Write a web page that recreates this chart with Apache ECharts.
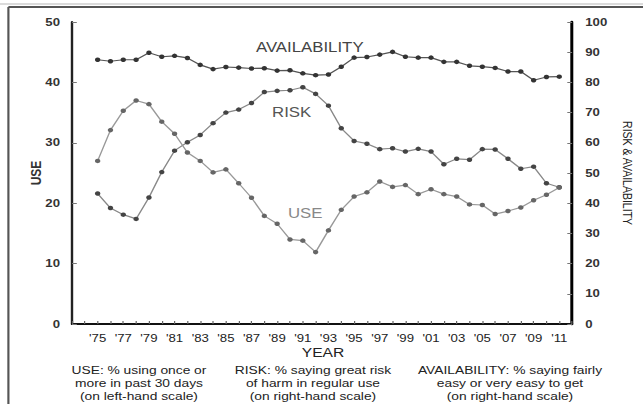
<!DOCTYPE html>
<html><head><meta charset="utf-8">
<script src="https://cdn.jsdelivr.net/npm/echarts@6/dist/echarts.min.js"></script>
<style>
html,body{margin:0;padding:0;background:#fff;overflow:hidden}
#wrap{width:643px;height:404px;overflow:hidden;position:relative}
#c{width:536px;height:404px;transform:scaleX(1.2);transform-origin:0 0}
</style>
</head><body><div id="wrap"><div id="c"></div></div>
<script>
var years = [1975,1976,1977,1978,1979,1980,1981,1982,1983,1984,1985,1986,1987,1988,1989,1990,1991,1992,1993,1994,1995,1996,1997,1998,1999,2000,2001,2002,2003,2004,2005,2006,2007,2008,2009,2010,2011];
// USE: % using once or more in past 30 days (left-hand scale)
var useVals = [27.0,32.1,35.3,37.0,36.4,33.5,31.5,28.4,27.0,25.1,25.6,23.3,20.9,17.9,16.6,14.0,13.8,11.9,15.5,18.9,21.1,21.8,23.6,22.7,23.0,21.5,22.3,21.5,21.1,19.8,19.7,18.2,18.7,19.3,20.5,21.4,22.6];
// RISK: % saying great risk of harm in regular use (right-hand scale)
var riskVals = [43.2,38.4,36.2,34.8,41.9,50.3,57.4,60.2,62.6,66.5,70.0,71.0,73.2,76.8,77.2,77.4,78.4,76.2,72.3,64.8,60.6,59.7,57.9,58.2,57.1,58.0,57.1,52.9,54.7,54.4,57.9,57.8,54.7,51.4,52.1,46.6,45.3];
// AVAILABILITY: % saying fairly easy or very easy to get (right-hand scale)
var availVals = [87.5,87.0,87.5,87.5,89.8,88.5,88.8,88.1,85.8,84.4,85.1,84.9,84.6,84.7,83.9,84.0,83.0,82.4,82.6,85.2,88.2,88.4,89.2,90.1,88.5,88.2,88.2,86.8,86.8,85.5,85.2,84.8,83.6,83.6,80.7,81.8,81.9];
var xTickLabels = ["'75","'77","'79","'81","'83","'85","'87","'89","'91","'93","'95","'97","'99","'01","'03","'05","'07","'09","'11"];
var labelYears = [1975,1977,1979,1981,1983,1985,1987,1989,1991,1993,1995,1997,1999,2001,2003,2005,2007,2009,2011];
var notes = [
  ["USE: % using once or","more in past 30 days","(on left-hand scale)"],
  ["RISK: % saying great risk","of harm in regular use","(on right-hand scale)"],
  ["AVAILABILITY: % saying fairly","easy or very easy to get","(on right-hand scale)"]
];

function pairs(vals){ return years.map(function(y,i){ return [y, vals[i]]; }); }
var FF = 'Liberation Sans, Arial, sans-serif';

var chart = echarts.init(document.getElementById('c'), null, {renderer:'svg'});
var graphics = [
  {type:'line', shape:{x1:0,y1:4,x2:536,y2:4}, style:{stroke:'#cfcfcf',lineWidth:1.5}},
  {type:'line', shape:{x1:7,y1:7,x2:536,y2:7}, style:{stroke:'#555',lineWidth:2}},
  {type:'line', shape:{x1:7,y1:7,x2:7,y2:404}, style:{stroke:'#555',lineWidth:1.8}},
  {type:'text', x:213.3, y:47, style:{text:'AVAILABILITY', font:'14px '+FF, fill:'#444', verticalAlign:'middle'}},
  {type:'text', x:226.7, y:112, style:{text:'RISK', font:'14px '+FF, fill:'#555', verticalAlign:'middle'}},
  {type:'text', x:240, y:213, style:{text:'USE', font:'14px '+FF, fill:'#888', verticalAlign:'middle'}},
  {type:'text', x:269.2, y:352, style:{text:'YEAR', font:'13px '+FF, fill:'#222', align:'center', verticalAlign:'middle'}}
];
var noteX = [115.8, 260.8, 425];
notes.forEach(function(col, ci){
  col.forEach(function(line, li){
    graphics.push({type:'text', x:noteX[ci], y:370 + li*13.3, style:{text:line, font:'11.5px '+FF, fill:'#222', align:'center', verticalAlign:'middle'}});
  });
});

chart.setOption({
  animation:false,
  backgroundColor:'#fff',
  grid:{left:60, right:56.8, top:22, bottom:80, containLabel:false},
  xAxis:{
    type:'value', min:1973, max:2012, interval:1,
    axisLine:{show:true, onZero:false, lineStyle:{color:'#111', width:2}},
    axisTick:{show:true, inside:true, length:3, lineStyle:{color:'#666'}},
    splitLine:{show:false},
    axisLabel:{margin:9, fontSize:11, fontFamily:FF, color:'#222',
      formatter:function(v){ var k = labelYears.indexOf(v); return k>=0 ? xTickLabels[k] : ''; }}
  },
  yAxis:[
    {type:'value', position:'left', min:0, max:50, interval:10,
     axisLine:{show:true, lineStyle:{color:'#222', width:2}},
     axisTick:{show:true, inside:true, length:4, lineStyle:{color:'#777'}},
     splitLine:{show:false},
     axisLabel:{margin:10, fontSize:11, fontWeight:'bold', fontFamily:FF, color:'#333'},
     name:'USE', nameLocation:'middle', nameGap:24, nameRotate:90, nameMoveOverlap:false,
     nameTextStyle:{fontSize:12, fontWeight:'bold', fontFamily:FF, color:'#333'}},
    {type:'value', position:'right', min:0, max:100, interval:10,
     axisLine:{show:true, lineStyle:{color:'#000', width:2.5}},
     axisTick:{show:true, inside:true, length:4, lineStyle:{color:'#777'}},
     splitLine:{show:false},
     axisLabel:{margin:11, fontSize:11, fontWeight:'bold', fontFamily:FF, color:'#333'},
     name:'RISK & AVAILABILITY', nameLocation:'middle', nameGap:36, nameRotate:-90,
     nameTextStyle:{fontSize:10.5, fontFamily:FF, color:'#222'}}
  ],
  series:[
    {name:'AVAILABILITY', type:'line', yAxisIndex:1, data:pairs(availVals),
     symbol:'circle', symbolSize:4.5, lineStyle:{color:'#555', width:1.2}, itemStyle:{color:'#333'}},
    {name:'RISK', type:'line', yAxisIndex:1, data:pairs(riskVals),
     symbol:'circle', symbolSize:4.5, lineStyle:{color:'#888', width:1.2}, itemStyle:{color:'#444'}},
    {name:'USE', type:'line', yAxisIndex:0, data:pairs(useVals),
     symbol:'circle', symbolSize:4.5, lineStyle:{color:'#999', width:1.2}, itemStyle:{color:'#666'}}
  ],
  graphic:graphics
});
</script></body></html>
